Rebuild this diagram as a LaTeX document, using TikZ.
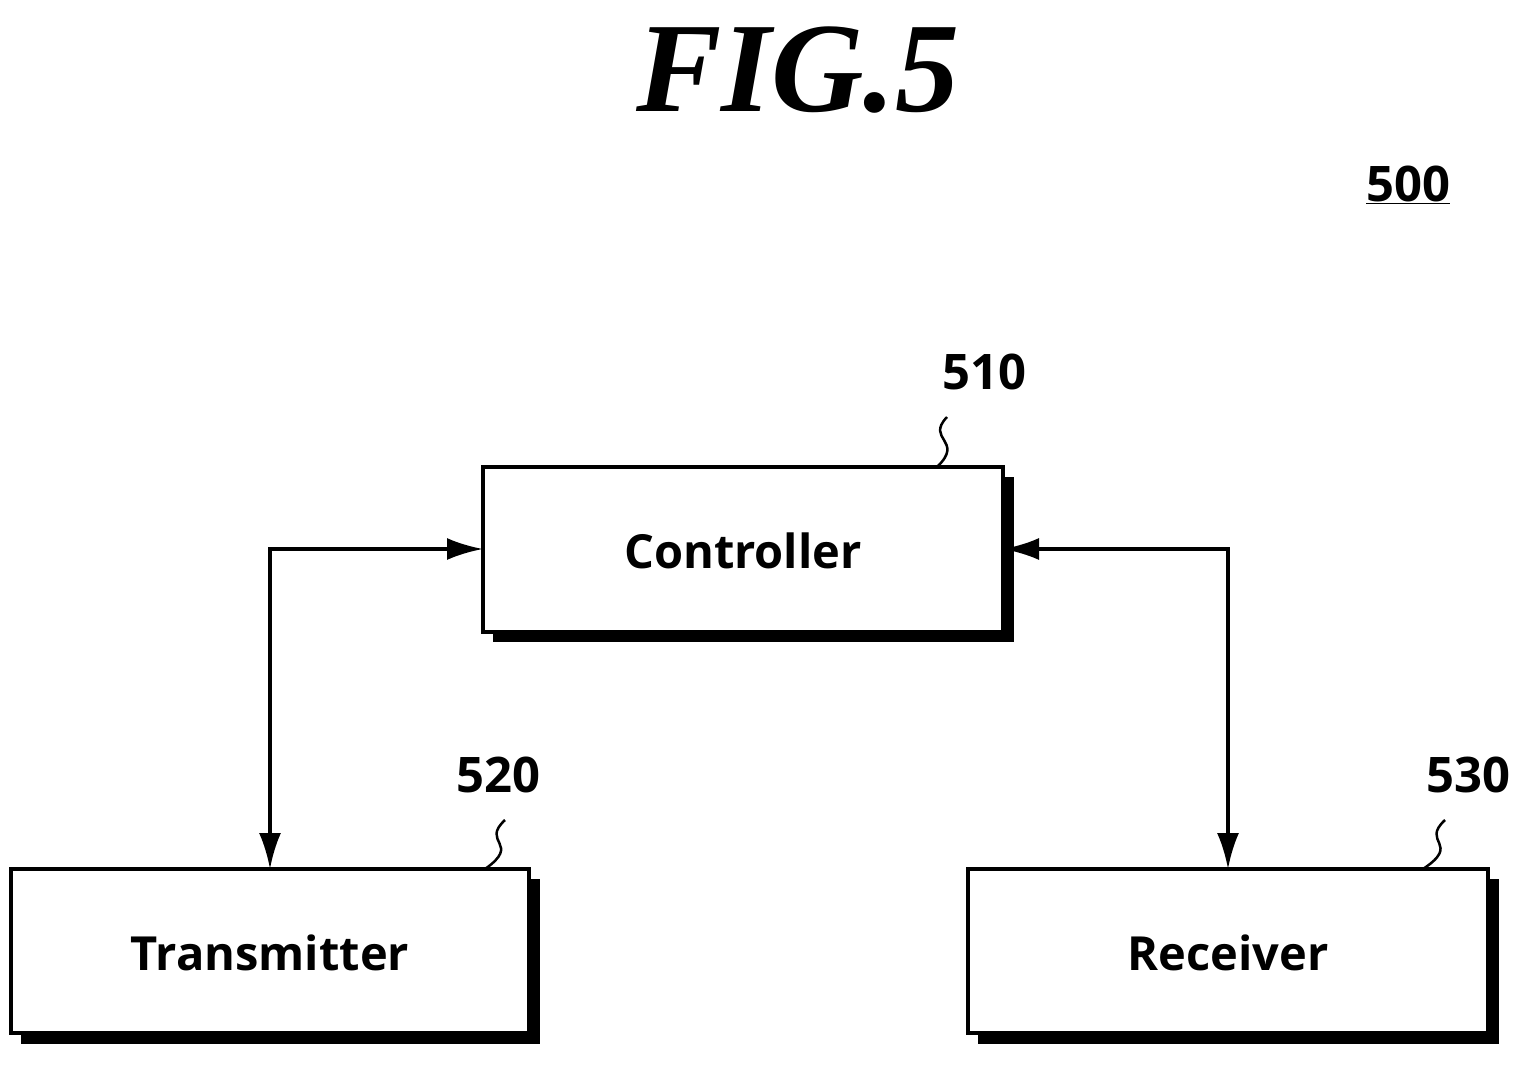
\documentclass[tikz,border=0pt]{standalone}
\usepackage{fontspec}
\setmainfont{Open Sans}
\newfontfamily\figfont{Liberation Serif}
\usetikzlibrary{arrows.meta}
\begin{document}
\begin{tikzpicture}[x=1pt,y=-1pt,
  box/.style={draw,line width=3.5pt,fill=white},
  shadow/.style={fill=black},
  lbl/.style={font=\fontsize{47}{52}\selectfont\bfseries},
  num/.style={font=\fontsize{49}{54}\selectfont\bfseries},
  conn/.style={line width=3.5pt,{Latex[length=36pt,width=22pt]}-{Latex[length=36pt,width=22pt]}},
  sq/.style={line width=2.5pt}]
\useasboundingbox (0,0) rectangle (1530,1065);
\node[font=\figfont\bfseries\itshape\fontsize{128}{130}\selectfont] (fig) at (798,70) {FIG.5};
\node[num] (n500) at (1408,185) {\underline{500}};
% shadows
\fill[shadow] (493,477) rectangle (1014,642);
\fill[shadow] (21,879) rectangle (540,1044);
\fill[shadow] (978,879) rectangle (1499,1044);
\draw[box] (483,467) rectangle (1003,632);
\draw[box] (11,869) rectangle (529,1033);
\draw[box] (968,869) rectangle (1488,1033);
\node[lbl] (c) at (743,551) {Controller};
\node[lbl] (t) at (270,953) {Transmitter};
\node[lbl] (r) at (1228,953) {Receiver};
\coordinate (cl) at (483,549); \coordinate (cr) at (1003,549);
\coordinate (tt) at (270,869); \coordinate (rt) at (1228,869);
\draw[conn] (cl) -| (tt);
\draw[conn] (cr) -| (rt);
\node[num] (n510) at (984,372) {510};
\node[num] (n520) at (498,775) {520};
\node[num] (n530) at (1468,775) {530};
\draw[sq] (947,417) .. controls (925,440) and (965,440) .. (937,467);
\draw[sq] (505,820) .. controls (480,843) and (522,843) .. (485,869);
\draw[sq] (1445,820) .. controls (1420,843) and (1462,843) .. (1423,869);
\end{tikzpicture}
\end{document}
